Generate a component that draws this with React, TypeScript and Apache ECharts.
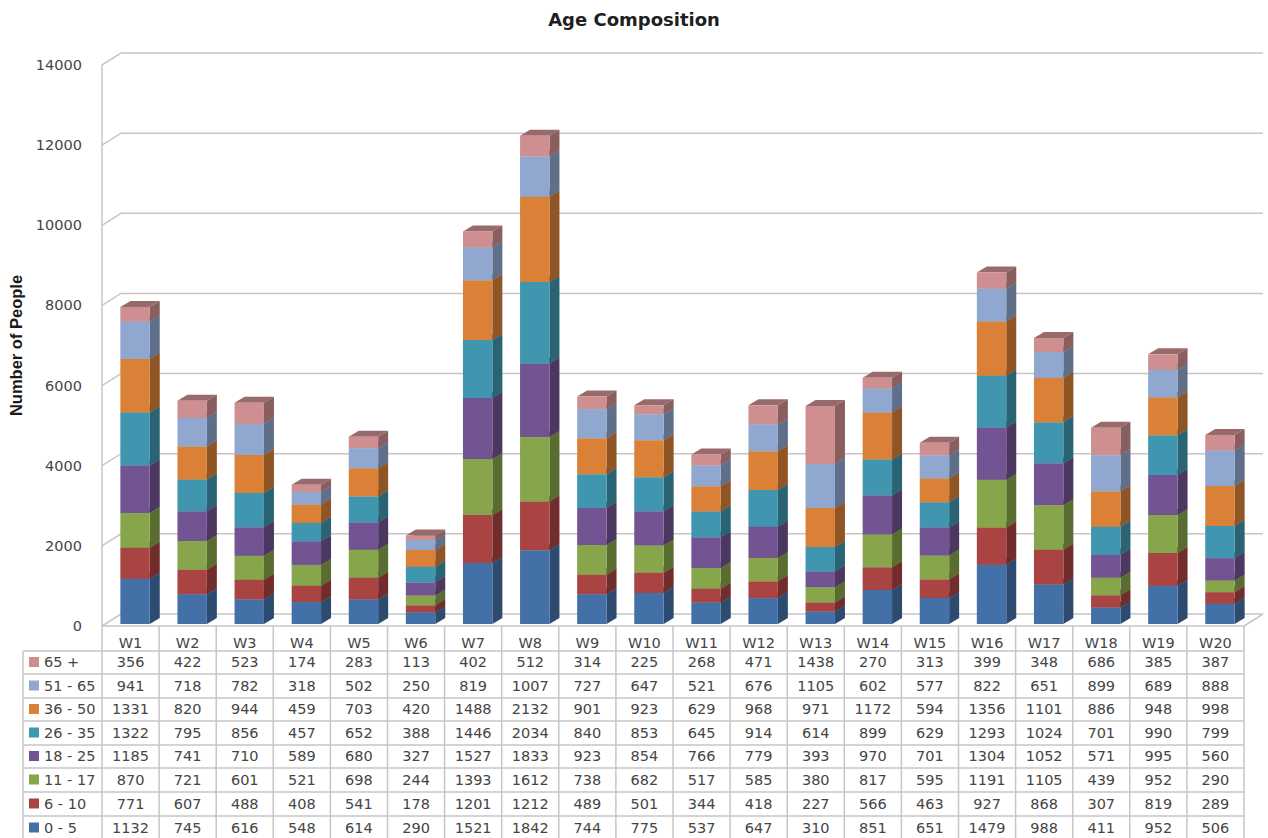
import React, { useEffect, useRef } from "react";
import * as echarts from "echarts";

const weeks = ["W1","W2","W3","W4","W5","W6","W7","W8","W9","W10","W11","W12","W13","W14","W15","W16","W17","W18","W19","W20"];
const age0to5 = [1132,745,616,548,614,290,1521,1842,744,775,537,647,310,851,651,1479,988,411,952,506];
const age6to10 = [771,607,488,408,541,178,1201,1212,489,501,344,418,227,566,463,927,868,307,819,289];
const age11to17 = [870,721,601,521,698,244,1393,1612,738,682,517,585,380,817,595,1191,1105,439,952,290];
const age18to25 = [1185,741,710,589,680,327,1527,1833,923,854,766,779,393,970,701,1304,1052,571,995,560];
const age26to35 = [1322,795,856,457,652,388,1446,2034,840,853,645,914,614,899,629,1293,1024,701,990,799];
const age36to50 = [1331,820,944,459,703,420,1488,2132,901,923,629,968,971,1172,594,1356,1101,886,948,998];
const age51to65 = [941,718,782,318,502,250,819,1007,727,647,521,676,1105,602,577,822,651,899,689,888];
const age65plus = [356,422,523,174,283,113,402,512,314,225,268,471,1438,270,313,399,348,686,385,387];

const seriesNames = ["0 - 5","6 - 10","11 - 17","18 - 25","26 - 35","36 - 50","51 - 65","65 +"];
const seriesValues = [age0to5,age6to10,age11to17,age18to25,age26to35,age36to50,age51to65,age65plus];
const seriesColors = ["#4470A8","#A94442","#87A54A","#725492","#3F96AE","#DA8137","#90A7CF","#CF8F90"];
const yTicks = [0,2000,4000,6000,8000,10000,12000,14000];

const LEFT = 102, TOP = 65, WIDTH = 1142, HEIGHT = 561;
const DX = 19, DY = 12;
const BAR_DX = 10, BAR_DY = 6;
const TABLE_LEFT = 23;
const ROW_LINES = [651,674,698,721,745,768,792,816,840];
const LINE = "#c6c6c6";
const FONT = "'DejaVu Sans'";
const TEXT = "#454545";

function darken(hex: string, f: number) {
  const n = parseInt(hex.slice(1), 16);
  const c = [(n >> 16) & 255, (n >> 8) & 255, n & 255].map((v) => Math.round(v * f));
  return `rgb(${c[0]},${c[1]},${c[2]})`;
}

function wallItem(params: any, api: any) {
  const cs = params.coordSys;
  const y = api.coord([0, api.value(0)])[1];
  const x0 = cs.x, x1 = cs.x + cs.width;
  const lineStyle = { stroke: LINE, lineWidth: 1.5, fill: "none" };
  const children: any[] = [
    { type: "polyline", shape: { points: [[x0, y], [x0 + DX, y - DY], [x1 + DX, y - DY]] }, style: lineStyle },
  ];
  if (api.value(0) === 0) {
    children.push({ type: "line", shape: { x1, y1: y, x2: x1 + DX, y2: y - DY }, style: lineStyle });
  }
  return { type: "group", children };
}

function barItem(color: string) {
  const side = darken(color, 0.66);
  const top = darken(color, 0.74);
  return (_params: any, api: any) => {
    const idx = api.value(0);
    const a = api.coord([idx, api.value(1)]);
    const b = api.coord([idx, api.value(2)]);
    const band = api.size([1, 0])[0];
    const w = band * 0.515;
    const x0 = a[0] + 4.5 - w / 2;
    const x1 = x0 + w;
    const yb = a[1] - 2;
    const yt = b[1] - 2;
    return {
      type: "group",
      children: [
        { type: "polygon", shape: { points: [[x0, yt], [x0 + BAR_DX, yt - BAR_DY], [x1 + BAR_DX, yt - BAR_DY], [x1, yt]] }, style: { fill: top } },
        { type: "polygon", shape: { points: [[x1, yb], [x1 + BAR_DX, yb - BAR_DY], [x1 + BAR_DX, yt - BAR_DY], [x1, yt]] }, style: { fill: side } },
        { type: "rect", shape: { x: x0, y: yt, width: w, height: yb - yt }, style: { fill: color } },
      ],
    };
  };
}

function tableGraphics() {
  const out: any[] = [];
  const colW = WIDTH / weeks.length;
  const bottom = TOP + HEIGHT;
  const line = (x1: number, y1: number, x2: number, y2: number) =>
    out.push({ type: "line", z: 5, silent: true, shape: { x1, y1, x2, y2 }, style: { stroke: LINE, lineWidth: 1.5 } });
  line(LEFT, bottom, LEFT + WIDTH, bottom);
  ROW_LINES.forEach((y) => line(TABLE_LEFT, y, LEFT + WIDTH, y));
  line(TABLE_LEFT, ROW_LINES[0], TABLE_LEFT, 838);
  for (let i = 0; i <= weeks.length; i++) line(LEFT + colW * i, bottom, LEFT + colW * i, 838);

  const n = seriesNames.length;
  for (let r = 0; r < n; r++) {
    const s = n - 1 - r;
    const cy = (ROW_LINES[r] + ROW_LINES[r + 1]) / 2 - 0.5;
    out.push({ type: "rect", z: 6, silent: true, shape: { x: 29, y: cy - 5, width: 10, height: 10 }, style: { fill: seriesColors[s] } });
    out.push({ type: "text", z: 6, silent: true, x: 44, y: cy, style: { text: seriesNames[s], font: `14.5px ${FONT}`, fill: TEXT, textAlign: "left", textVerticalAlign: "middle" } });
    seriesValues[s].forEach((v, i) => {
      out.push({ type: "text", z: 6, silent: true, x: LEFT + colW * (i + 0.5), y: cy, style: { text: String(v), font: `14.5px ${FONT}`, fill: TEXT, textAlign: "center", textVerticalAlign: "middle" } });
    });
  }
  return out;
}

function buildOption() {
  const running = weeks.map(() => 0);
  const bars = seriesNames.map((name, s) => ({
    type: "custom",
    name,
    coordinateSystem: "cartesian2d",
    clip: false,
    silent: true,
    z: 3,
    renderItem: barItem(seriesColors[s]),
    encode: { x: 0, y: [1, 2] },
    data: seriesValues[s].map((v, i) => {
      const start = running[i];
      running[i] += v;
      return [i, start, running[i]];
    }),
  }));
  return {
    animation: false,
    backgroundColor: "#ffffff",
    title: {
      text: "Age Composition",
      left: 634,
      top: 10,
      padding: 0,
      textAlign: "center",
      textStyle: { fontFamily: FONT, fontWeight: "bold", fontSize: 18, color: "#1f1f1f" },
    },
    grid: { left: LEFT, top: TOP, width: WIDTH, height: HEIGHT, containLabel: false, outerBoundsMode: "none" },
    xAxis: {
      type: "category",
      data: weeks,
      axisLine: { show: false },
      axisTick: { show: false },
      axisLabel: { margin: 9, interval: 0, fontFamily: FONT, fontSize: 14.5, color: TEXT },
    },
    yAxis: {
      type: "value",
      min: 0,
      max: 14000,
      interval: 2000,
      name: "Number of People",
      nameLocation: "middle",
      nameGap: 77,
      nameTextStyle: { fontFamily: "'Liberation Sans'", fontWeight: "bold", fontSize: 16.5, color: "#1a1a1a" },
      axisLine: { show: true, lineStyle: { color: LINE, width: 1.5 } },
      axisTick: { show: false },
      splitLine: { show: false },
      axisLabel: { margin: 20, fontFamily: FONT, fontSize: 14.5, color: TEXT, formatter: (v: number) => String(v) },
    },
    graphic: { elements: tableGraphics() },
    series: [
      {
        type: "custom",
        name: "walls",
        coordinateSystem: "cartesian2d",
        clip: false,
        silent: true,
        z: 1,
        renderItem: wallItem,
        encode: { y: 0 },
        data: yTicks.map((v) => [v]),
      },
      ...bars,
    ],
  };
}

export default function App() {
  const ref = useRef<HTMLDivElement>(null);
  useEffect(() => {
    const chart = echarts.init(ref.current!, undefined, { renderer: "svg" });
    chart.setOption(buildOption() as any);
    return () => chart.dispose();
  }, []);
  return <div ref={ref} style={{ position: "absolute", left: 0, top: 0, width: 1268, height: 838, overflow: "hidden" }} />;
}
